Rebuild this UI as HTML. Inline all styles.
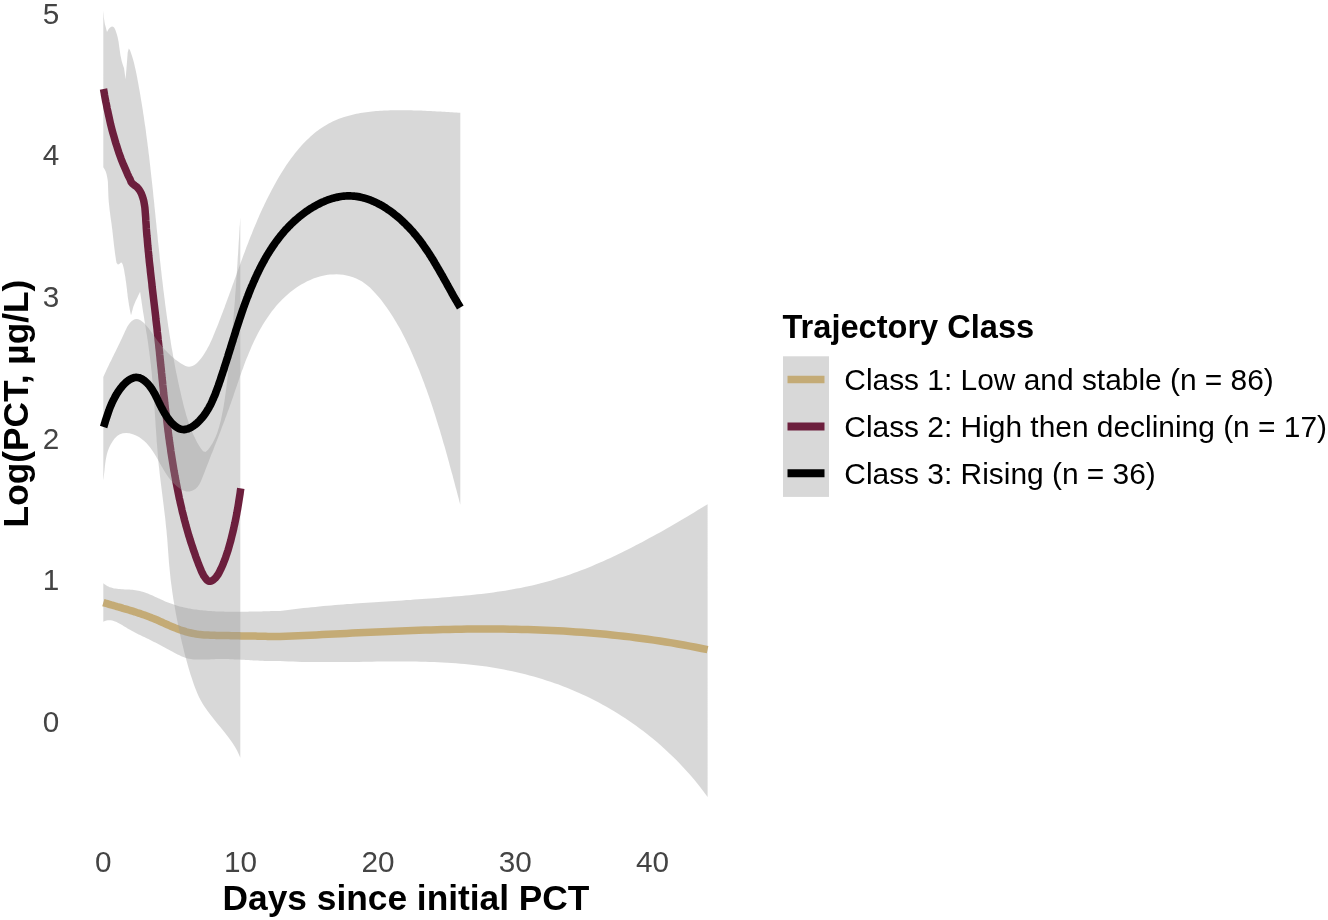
<!DOCTYPE html>
<html><head><meta charset="utf-8"><title>PCT trajectories</title>
<style>
html,body{margin:0;padding:0;background:#fff;}
body{width:1328px;height:920px;overflow:hidden;position:relative;font-family:"Liberation Sans",Arial,sans-serif;}
svg{position:absolute;left:0;top:0;display:block;}
.rb{fill:rgb(153,153,153);fill-opacity:0.38;stroke:none;}
text{font-family:"Liberation Sans",Arial,sans-serif;}
.tk{font-size:29.7px;fill:#444;}
.ttl{font-size:35.3px;font-weight:bold;fill:#000;}
.lt{font-size:32.6px;font-weight:bold;fill:#000;}
.ll{font-size:29.9px;fill:#000;}
</style></head>
<body>
<svg width="1328" height="920" viewBox="0 0 1328 920">
<rect width="1328" height="920" fill="#fff"/>
<polygon class="rb" points="103.3,583.2 104.5,584.2 105.8,585.1 107.1,585.9 108.4,586.6 109.7,587.2 111.1,587.6 112.6,588.0 114.0,588.4 115.5,588.6 117.0,588.8 118.5,589.0 120.0,589.1 121.5,589.2 123.1,589.3 124.6,589.4 126.2,589.4 127.7,589.5 129.2,589.6 130.8,589.7 132.3,589.8 133.8,590.0 135.4,590.2 136.9,590.4 138.3,590.7 139.8,591.0 141.3,591.4 142.7,591.8 144.2,592.3 145.6,592.7 147.0,593.3 148.4,593.8 149.8,594.4 151.2,595.0 152.6,595.6 154.0,596.2 155.4,596.9 156.8,597.5 158.2,598.2 159.6,598.8 161.0,599.5 162.4,600.1 163.8,600.7 165.2,601.4 166.6,602.0 168.0,602.5 169.4,603.1 170.8,603.6 172.3,604.1 173.7,604.6 175.2,605.1 176.6,605.5 178.1,605.9 179.5,606.4 181.0,606.7 182.5,607.1 184.0,607.4 185.5,607.8 187.0,608.1 188.4,608.4 189.9,608.6 191.5,608.9 193.0,609.2 194.5,609.4 196.0,609.6 197.5,609.8 199.0,610.0 200.5,610.2 202.1,610.3 203.6,610.5 205.1,610.6 206.6,610.8 208.2,610.9 209.7,611.0 211.2,611.1 212.7,611.2 214.3,611.3 215.8,611.4 217.3,611.4 218.9,611.5 220.4,611.6 221.9,611.6 223.4,611.6 225.0,611.7 226.5,611.7 228.0,611.7 229.6,611.8 231.1,611.8 232.6,611.8 234.2,611.8 235.7,611.8 237.2,611.8 238.7,611.8 240.3,611.8 241.8,611.8 243.3,611.7 244.9,611.7 246.4,611.7 247.9,611.7 249.5,611.6 251.0,611.6 252.5,611.6 254.0,611.5 255.6,611.5 257.1,611.5 258.6,611.4 260.2,611.4 261.7,611.4 263.2,611.3 264.7,611.3 266.3,611.3 267.8,611.2 269.3,611.2 270.8,611.1 272.4,611.1 273.9,611.1 275.4,611.1 277.0,611.0 278.5,611.0 280.0,611.0 283.9,610.5 287.9,610.0 291.8,609.5 295.7,609.0 299.7,608.5 303.6,608.1 307.6,607.7 311.5,607.3 315.4,606.9 319.4,606.5 323.3,606.1 327.3,605.8 331.2,605.4 335.2,605.1 339.1,604.8 343.1,604.5 347.0,604.1 351.0,603.9 354.9,603.6 358.9,603.3 362.8,603.0 366.8,602.7 370.7,602.5 374.7,602.2 378.6,601.9 382.6,601.7 386.5,601.4 390.5,601.2 394.4,600.9 398.4,600.7 402.3,600.4 406.3,600.1 410.3,599.9 414.2,599.6 418.2,599.3 422.1,599.1 426.1,598.8 430.1,598.5 434.0,598.2 438.0,597.9 441.9,597.6 445.9,597.3 449.8,597.0 453.8,596.6 457.8,596.3 461.7,595.9 465.7,595.6 469.6,595.2 473.6,594.8 477.5,594.3 481.5,593.9 485.4,593.4 489.4,592.9 493.3,592.4 497.2,591.8 501.1,591.3 505.1,590.7 509.0,590.0 512.9,589.3 516.8,588.6 520.6,587.9 524.5,587.1 528.4,586.3 532.2,585.4 536.1,584.5 539.9,583.6 543.7,582.6 547.5,581.5 551.3,580.4 555.1,579.3 558.8,578.1 562.6,576.9 566.3,575.7 570.1,574.4 573.8,573.1 577.5,571.7 581.2,570.3 584.9,568.9 588.6,567.4 592.2,565.9 595.9,564.3 599.5,562.8 603.2,561.2 606.8,559.6 610.4,557.9 614.0,556.2 617.6,554.5 621.2,552.8 624.7,551.0 628.3,549.2 631.8,547.4 635.4,545.6 638.9,543.8 642.4,541.9 645.9,540.0 649.4,538.1 652.9,536.2 656.4,534.3 659.9,532.4 663.4,530.4 666.8,528.4 670.3,526.4 673.7,524.5 677.1,522.5 680.5,520.4 683.9,518.4 687.4,516.4 690.7,514.4 694.1,512.4 697.5,510.3 700.9,508.3 704.2,506.2 707.6,504.2 707.6,797.0 705.0,793.4 702.4,789.9 699.7,786.4 696.9,783.0 694.1,779.6 691.3,776.3 688.4,772.9 685.4,769.7 682.4,766.4 679.4,763.2 676.3,760.1 673.2,757.0 670.0,753.9 666.8,750.9 663.6,747.9 660.3,745.0 656.9,742.1 653.6,739.3 650.1,736.5 646.7,733.8 643.2,731.1 639.7,728.4 636.1,725.8 632.5,723.3 628.9,720.8 625.3,718.3 621.6,715.9 617.8,713.6 614.1,711.3 610.3,709.0 606.5,706.8 602.7,704.7 598.8,702.6 594.9,700.6 591.0,698.6 587.0,696.6 583.0,694.8 579.1,692.9 575.0,691.2 571.0,689.5 566.9,687.8 562.8,686.2 558.7,684.6 554.6,683.2 550.5,681.7 546.3,680.4 542.1,679.0 537.9,677.8 533.7,676.6 529.5,675.4 525.3,674.3 521.0,673.2 516.7,672.2 512.5,671.3 508.2,670.4 503.9,669.5 499.6,668.8 495.2,668.0 490.9,667.3 486.6,666.6 482.2,666.0 477.9,665.5 473.5,665.0 469.1,664.5 464.8,664.1 460.4,663.7 456.0,663.3 451.6,663.0 447.2,662.7 442.8,662.5 438.4,662.3 434.0,662.1 429.6,661.9 425.2,661.8 420.8,661.7 416.3,661.6 411.9,661.6 407.5,661.5 403.1,661.5 398.7,661.5 394.2,661.5 389.8,661.5 385.4,661.5 381.0,661.6 376.5,661.6 372.1,661.7 367.7,661.7 363.3,661.8 358.9,661.9 354.4,661.9 350.0,662.0 345.6,662.0 341.2,662.1 336.8,662.1 332.4,662.1 328.0,662.1 323.6,662.1 319.2,662.1 314.8,662.1 310.5,662.0 306.1,662.0 301.7,661.9 297.4,661.7 293.0,661.6 288.7,661.4 284.3,661.2 280.0,661.0 278.4,661.0 276.8,661.1 275.3,661.1 273.7,661.1 272.1,661.1 270.6,661.0 269.0,661.0 267.4,661.0 265.9,660.9 264.3,660.9 262.7,660.8 261.2,660.8 259.6,660.7 258.0,660.6 256.5,660.5 254.9,660.5 253.4,660.4 251.8,660.3 250.2,660.2 248.7,660.1 247.1,660.0 245.6,659.9 244.0,659.8 242.4,659.7 240.9,659.7 239.3,659.6 237.8,659.5 236.2,659.4 234.6,659.4 233.1,659.3 231.5,659.2 229.9,659.2 228.4,659.1 226.8,659.1 225.2,659.1 223.7,659.1 222.1,659.1 220.5,659.1 219.0,659.1 217.4,659.1 215.8,659.1 214.2,659.2 212.6,659.2 211.1,659.3 209.5,659.4 207.9,659.5 206.3,659.5 204.7,659.6 203.2,659.6 201.6,659.6 200.0,659.6 198.5,659.6 196.9,659.6 195.3,659.5 193.8,659.4 192.2,659.2 190.7,659.0 189.2,658.7 187.7,658.4 186.2,658.0 184.7,657.6 183.3,657.0 181.8,656.4 180.4,655.8 179.0,655.1 177.6,654.4 176.2,653.7 174.8,653.0 173.5,652.2 172.1,651.5 170.7,650.8 169.3,650.0 167.9,649.3 166.5,648.5 165.1,647.7 163.7,647.0 162.3,646.2 161.0,645.5 159.6,644.7 158.2,644.0 156.8,643.3 155.4,642.6 154.0,641.9 152.6,641.2 151.2,640.5 149.8,639.8 148.5,639.1 147.1,638.4 145.7,637.8 144.3,637.1 142.9,636.4 141.5,635.7 140.1,635.1 138.7,634.4 137.3,633.7 135.9,633.0 134.5,632.3 133.1,631.5 131.7,630.8 130.4,630.0 129.0,629.3 127.6,628.5 126.2,627.6 124.8,626.8 123.5,626.0 122.1,625.1 120.7,624.2 119.3,623.4 117.9,622.7 116.5,622.0 115.1,621.4 113.7,620.9 112.3,620.5 110.8,620.2 109.4,620.2 107.9,620.3 106.4,620.5 104.9,621.1 103.3,621.8"/>
<polyline fill="none" stroke="#C4AB76" stroke-width="7.5" stroke-linejoin="round" points="103.3,602.6 105.3,603.2 107.2,603.7 109.2,604.3 111.2,604.9 113.1,605.4 115.1,606.0 117.1,606.6 119.1,607.1 121.0,607.7 123.0,608.3 124.9,608.8 126.9,609.4 128.9,610.0 130.8,610.6 132.8,611.2 134.7,611.8 136.7,612.5 138.6,613.1 140.6,613.7 142.5,614.4 144.4,615.1 146.3,615.8 148.3,616.5 150.2,617.2 152.1,618.0 154.0,618.7 155.9,619.5 157.8,620.3 159.6,621.2 161.5,622.0 163.4,622.9 165.3,623.7 167.1,624.5 169.0,625.4 170.9,626.2 172.8,627.0 174.7,627.8 176.6,628.5 178.5,629.3 180.4,630.0 182.3,630.6 184.3,631.2 186.2,631.8 188.2,632.3 190.1,632.8 192.1,633.2 194.1,633.6 196.1,634.0 198.1,634.3 200.1,634.5 202.1,634.7 204.2,634.9 206.2,635.0 208.3,635.1 210.3,635.2 212.4,635.3 214.4,635.3 216.5,635.4 218.5,635.4 220.6,635.5 222.7,635.5 224.7,635.5 226.8,635.6 228.8,635.6 230.9,635.7 232.9,635.7 235.0,635.7 237.0,635.8 239.1,635.8 241.1,635.9 243.2,635.9 245.2,635.9 247.3,636.0 249.3,636.0 251.4,636.1 253.4,636.1 255.5,636.1 257.5,636.2 259.5,636.2 261.6,636.3 263.6,636.3 265.7,636.3 267.7,636.4 269.8,636.4 271.8,636.5 273.9,636.5 275.9,636.5 278.0,636.6 280.0,636.6 286.0,636.3 292.1,636.1 298.1,635.8 304.1,635.5 310.1,635.2 316.2,634.9 322.2,634.6 328.2,634.3 334.3,634.0 340.3,633.7 346.4,633.4 352.4,633.1 358.4,632.8 364.5,632.5 370.5,632.3 376.6,632.0 382.6,631.7 388.7,631.4 394.7,631.2 400.8,630.9 406.8,630.7 412.8,630.5 418.9,630.3 424.9,630.1 431.0,629.9 437.0,629.7 443.1,629.6 449.1,629.4 455.2,629.3 461.2,629.2 467.3,629.1 473.3,629.1 479.3,629.0 485.4,629.0 491.4,629.0 497.5,629.1 503.5,629.1 509.5,629.2 515.6,629.3 521.6,629.4 527.7,629.6 533.7,629.8 539.7,630.0 545.8,630.2 551.8,630.5 557.8,630.8 563.8,631.1 569.9,631.5 575.9,631.9 581.9,632.3 587.9,632.8 593.9,633.3 599.9,633.8 606.0,634.3 612.0,634.9 618.0,635.6 624.0,636.2 630.0,636.9 636.0,637.7 641.9,638.5 647.9,639.3 653.9,640.1 659.9,641.0 665.9,642.0 671.8,642.9 677.8,644.0 683.8,645.0 689.7,646.1 695.7,647.3 701.7,648.5 707.6,649.7"/>
<polygon class="rb" points="103.3,10.6 103.4,12.0 103.6,13.5 103.7,14.9 103.8,16.4 103.9,17.8 104.1,19.2 104.3,20.6 104.5,22.0 104.7,23.3 105.0,24.6 105.3,25.8 105.7,27.0 106.0,28.3 106.3,29.5 106.7,30.8 107.0,32.0 107.8,30.4 108.7,29.0 109.8,27.8 110.9,27.0 112.0,26.6 113.0,26.7 113.9,27.3 114.7,28.4 115.3,29.8 115.9,31.4 116.4,32.9 116.9,34.5 117.3,36.0 117.7,37.5 118.0,39.0 118.3,40.5 118.6,42.0 118.8,43.5 119.0,44.9 119.2,46.4 119.4,47.8 119.6,49.3 119.8,50.7 120.0,52.1 120.2,53.5 120.4,55.0 120.7,56.4 121.0,57.8 121.3,59.2 121.6,60.7 122.0,62.1 122.4,63.6 122.9,65.0 123.4,66.5 124.0,68.0 125.6,79.3 126.7,65.4 127.7,52.4 128.8,48.6 129.9,50.0 131.0,52.9 132.0,56.0 133.0,59.2 133.9,62.6 134.7,66.0 135.5,69.6 136.3,73.2 137.0,76.8 137.7,80.5 138.4,84.2 139.0,87.8 139.7,91.4 140.3,95.1 140.9,98.7 141.5,102.3 142.1,105.9 142.7,109.6 143.2,113.2 143.8,116.8 144.3,120.4 144.8,124.0 145.4,127.6 145.9,131.2 146.3,134.8 146.8,138.4 147.3,142.0 147.7,145.6 148.2,149.1 148.6,152.7 149.1,156.3 149.5,159.9 149.9,163.5 150.3,167.1 150.7,170.7 151.1,174.3 151.5,177.9 151.9,181.5 152.3,185.1 152.7,188.7 153.1,192.3 153.4,195.9 153.8,199.5 154.2,203.1 154.5,206.7 154.9,210.3 155.3,213.9 155.6,217.6 156.0,221.2 156.4,224.8 156.7,228.4 157.1,232.0 157.5,235.6 157.8,239.3 158.2,242.9 158.6,246.5 159.0,250.1 159.4,253.7 159.7,257.4 160.1,261.0 160.5,264.6 160.9,268.2 161.3,271.8 161.7,275.4 162.1,279.1 162.6,282.7 163.0,286.3 163.4,289.9 163.9,293.5 164.3,297.1 164.8,300.7 165.2,304.3 165.7,307.9 166.2,311.6 166.7,315.2 167.2,318.8 167.7,322.3 168.2,325.9 168.8,329.5 169.3,333.1 169.9,336.7 170.5,340.3 171.0,343.9 171.6,347.5 172.3,351.0 172.9,354.6 173.5,358.2 174.2,361.7 174.8,365.3 175.5,368.9 176.2,372.4 177.0,376.0 177.7,379.5 178.4,383.0 179.2,386.6 180.0,390.1 180.8,393.6 181.6,397.2 182.5,400.7 183.3,404.2 184.2,407.7 185.2,411.2 186.1,414.7 187.2,418.2 188.3,421.6 189.4,425.1 190.7,428.5 192.1,431.9 193.6,435.3 195.2,438.6 196.9,441.9 198.8,445.2 200.9,448.5 203.1,451.3 205.5,452.0 208.1,449.8 210.4,446.5 212.5,443.2 214.3,439.8 215.8,436.4 217.2,433.1 218.3,429.6 219.3,426.2 220.2,422.8 221.1,419.3 221.8,415.8 222.5,412.3 223.2,408.7 223.8,405.2 224.4,401.6 224.9,398.0 225.4,394.4 225.9,390.8 226.4,387.2 226.8,383.5 227.3,379.9 227.7,376.3 228.1,372.7 228.5,369.1 229.0,365.5 229.3,361.8 229.7,358.2 230.1,354.6 230.5,351.0 230.8,347.4 231.2,343.8 231.5,340.1 231.9,336.5 232.2,332.9 232.5,329.3 232.8,325.7 233.1,322.1 233.4,318.4 233.7,314.8 234.0,311.2 234.3,307.6 234.6,304.0 234.9,300.4 235.1,296.7 235.4,293.1 235.7,289.5 235.9,285.9 236.2,282.3 236.4,278.6 236.7,275.0 236.9,271.4 237.1,267.8 237.4,264.1 237.6,260.5 237.8,256.9 238.1,253.3 238.3,249.6 238.5,246.0 238.7,242.4 239.0,238.8 239.2,235.1 239.4,231.5 239.6,227.9 239.9,224.3 240.1,220.6 240.3,217.0 240.3,757.7 238.7,753.9 236.9,750.3 234.9,746.8 232.7,743.3 230.4,740.0 228.0,736.7 225.5,733.4 222.9,730.2 220.3,727.1 217.7,723.9 215.1,720.7 212.6,717.6 210.0,714.3 207.6,711.1 205.3,707.8 203.1,704.4 201.1,700.9 199.2,697.4 197.5,693.7 196.0,690.0 194.5,686.2 193.2,682.4 191.9,678.6 190.6,674.7 189.4,670.8 188.3,666.9 187.2,663.0 186.1,659.0 185.0,655.1 184.0,651.1 183.1,647.1 182.1,643.2 181.2,639.2 180.3,635.2 179.4,631.2 178.6,627.2 177.8,623.2 177.0,619.2 176.2,615.2 175.5,611.2 174.8,607.2 174.1,603.2 173.4,599.2 172.8,595.2 172.2,591.2 171.7,587.2 171.1,583.1 170.6,579.1 170.2,575.1 169.8,571.0 169.4,567.0 169.0,562.9 168.7,558.9 168.4,554.8 168.1,550.7 167.8,546.7 167.5,542.6 167.2,538.5 166.8,534.5 166.5,530.4 166.0,526.4 165.6,522.3 165.2,518.3 164.7,514.2 164.2,510.2 163.7,506.1 163.2,502.1 162.7,498.1 162.2,494.0 161.7,490.0 161.2,486.0 160.7,481.9 160.2,477.9 159.7,473.8 159.3,469.8 158.8,465.8 158.4,461.7 158.1,457.7 157.7,453.6 157.4,449.6 157.1,445.5 156.7,441.4 156.5,437.4 156.2,433.3 155.9,429.2 155.6,425.2 155.4,421.1 155.1,417.1 154.8,413.0 154.6,408.9 154.3,404.9 154.0,400.8 153.7,396.7 153.4,392.7 153.1,388.6 152.8,384.5 152.4,380.5 152.0,376.4 151.7,372.4 151.2,368.3 150.8,364.3 150.3,360.2 149.8,356.2 149.3,352.2 148.7,348.1 148.2,344.1 147.6,340.1 147.0,336.0 146.3,332.0 145.7,328.0 145.1,324.0 144.4,320.0 143.8,315.9 143.1,311.9 142.5,307.9 141.9,303.9 141.3,299.8 140.7,295.8 140.1,291.8 139.3,293.5 138.5,295.1 137.7,296.8 136.9,298.5 136.1,300.1 135.3,301.8 134.6,303.4 134.0,305.0 133.5,306.3 133.1,307.6 132.7,308.9 132.4,310.2 132.0,311.5 131.7,312.7 131.4,314.0 131.0,315.3 130.5,313.1 130.1,310.9 129.7,308.9 129.4,307.0 129.0,305.2 128.8,303.4 128.5,301.8 128.3,300.2 128.0,298.6 127.8,297.1 127.6,295.6 127.5,294.1 127.3,292.7 127.1,291.2 127.0,289.8 126.8,288.3 126.6,286.8 126.4,285.2 126.2,283.6 126.0,281.9 125.7,280.2 125.5,278.4 125.2,276.5 124.8,274.5 124.5,272.4 124.1,270.1 123.6,267.8 123.1,265.7 122.5,263.9 121.8,262.7 121.0,262.5 120.1,263.3 119.0,264.2 117.8,264.4 116.5,262.8 116.0,260.0 115.6,257.3 115.2,254.5 114.8,251.8 114.5,249.0 114.1,246.3 113.8,243.5 113.5,240.8 113.2,238.0 112.9,235.3 112.6,232.5 112.3,229.8 111.9,227.0 111.6,224.3 111.2,221.6 110.8,218.9 110.4,216.1 110.1,213.4 109.7,210.6 109.4,207.9 109.1,205.1 108.8,202.3 108.6,199.5 108.4,196.6 108.3,193.7 108.2,190.8 108.1,187.9 108.0,185.0 107.9,182.1 107.6,179.4 107.1,176.7 106.5,174.1 105.7,171.6 104.6,169.3 103.3,167.2"/>
<polyline fill="none" stroke="#6C1F3D" stroke-width="7.5" stroke-linejoin="round" points="103.5,89.0 104.1,92.2 104.6,95.4 105.2,98.6 105.8,101.8 106.5,105.0 107.1,108.2 107.8,111.4 108.5,114.6 109.2,117.8 109.9,121.0 110.6,124.2 111.4,127.4 112.2,130.5 113.1,133.7 114.0,136.8 114.9,140.0 115.8,143.1 116.8,146.2 117.8,149.3 118.8,152.4 119.9,155.5 121.0,158.6 122.2,161.6 123.4,164.6 124.7,167.6 126.0,170.6 127.3,173.6 128.7,176.6 130.2,179.5 131.1,182.0 132.8,183.9 134.8,185.5 136.9,187.0 138.6,188.9 140.0,191.0 141.2,193.2 142.1,195.5 142.9,197.9 143.6,200.3 144.1,202.8 144.5,205.2 144.9,207.8 145.1,210.3 145.3,212.8 145.5,215.4 145.7,218.0 145.8,220.5 146.0,223.1 146.2,225.6 146.3,228.2 146.5,230.7 146.7,233.3 146.9,235.8 147.2,238.4 147.4,240.9 147.6,243.5 147.8,246.0 148.1,248.5 148.3,251.1 148.6,253.6 148.8,256.2 149.1,258.7 149.3,261.2 149.6,263.7 149.9,266.3 150.2,268.8 150.4,271.3 150.7,273.8 151.0,276.4 151.3,278.9 151.6,281.4 151.9,283.9 152.1,286.5 152.4,289.0 152.7,291.5 153.0,294.0 153.3,296.5 153.6,299.1 153.9,301.6 154.2,304.1 154.5,306.6 154.8,309.1 155.1,311.7 155.4,314.2 155.7,316.7 155.9,319.2 156.2,321.8 156.5,324.3 156.8,326.8 157.1,329.3 157.3,331.9 157.6,334.4 157.9,336.9 158.1,339.4 158.4,342.0 158.7,344.5 158.9,347.0 159.2,349.6 159.5,352.1 159.7,354.6 160.0,357.2 160.2,359.7 160.5,362.2 160.7,364.8 161.0,367.3 161.3,369.8 161.5,372.4 161.8,374.9 162.0,377.5 162.3,380.0 162.6,382.5 162.8,385.1 163.1,387.6 163.4,390.1 163.6,392.7 163.9,395.2 164.2,397.7 164.5,400.3 164.7,402.8 165.0,405.3 165.3,407.9 165.6,410.4 165.9,412.9 166.2,415.5 166.5,418.0 166.8,420.5 167.1,423.0 167.4,425.6 167.7,428.1 168.0,430.6 168.4,433.1 168.7,435.7 169.0,438.2 169.4,440.7 169.7,443.2 170.1,445.7 170.5,448.3 170.8,450.8 171.2,453.3 171.6,455.8 172.0,458.3 172.4,460.8 172.8,463.3 173.2,465.8 173.6,468.3 174.0,470.8 174.5,473.4 174.9,475.8 175.4,478.3 175.8,480.8 176.3,483.3 176.8,485.8 177.3,488.3 177.8,490.8 178.3,493.3 178.8,495.8 179.3,498.3 179.9,500.7 180.4,503.2 181.0,505.7 181.6,508.2 182.1,510.6 182.7,513.1 183.4,515.6 184.0,518.0 184.6,520.5 185.3,522.9 185.9,525.4 186.6,527.8 187.3,530.3 188.0,532.7 188.7,535.2 189.5,537.6 190.2,540.0 191.0,542.5 191.8,544.9 192.6,547.3 193.4,549.7 194.2,552.1 195.1,554.6 195.9,557.0 196.8,559.4 197.7,561.8 198.6,564.2 199.6,566.6 200.5,568.9 201.5,571.3 202.6,573.6 203.8,575.9 205.2,577.9 206.8,579.9 208.7,581.3 210.9,581.3 213.2,580.0 215.1,578.3 216.7,576.3 218.2,574.2 219.4,571.9 220.6,569.6 221.7,567.2 222.7,564.9 223.7,562.5 224.6,560.1 225.5,557.8 226.3,555.4 227.1,553.0 227.9,550.6 228.6,548.2 229.3,545.7 230.0,543.3 230.7,540.9 231.3,538.4 231.9,535.9 232.5,533.5 233.1,531.0 233.7,528.5 234.2,526.0 234.8,523.5 235.3,521.0 235.8,518.5 236.3,516.0 236.8,513.5 237.2,511.0 237.7,508.5 238.1,506.0 238.5,503.5 238.9,500.9 239.3,498.4 239.7,495.9 240.1,493.4 240.4,490.9 240.8,488.4"/>
<polygon class="rb" points="103.3,377.0 104.2,375.1 105.0,373.2 105.8,371.4 106.7,369.6 107.5,367.8 108.4,366.1 109.2,364.3 110.0,362.6 110.9,360.9 111.7,359.2 112.5,357.5 113.4,355.8 114.2,354.1 115.0,352.4 115.9,350.7 116.7,349.0 117.6,347.3 118.4,345.6 119.3,343.8 120.1,342.0 120.9,340.2 121.8,338.4 122.7,336.6 123.5,334.7 124.4,332.8 125.3,330.8 126.2,328.9 127.1,327.1 128.2,325.3 129.3,323.7 130.5,322.2 131.8,321.0 133.3,320.0 134.9,319.3 136.6,319.0 138.3,319.2 140.0,319.9 141.5,320.9 143.1,322.2 144.6,323.6 146.0,325.2 147.3,326.7 148.6,328.3 149.8,329.9 150.9,331.5 152.1,333.1 153.2,334.7 154.3,336.3 155.4,337.8 156.6,339.4 157.7,341.0 158.9,342.5 160.1,344.0 161.3,345.5 162.5,347.0 163.8,348.5 165.1,349.9 166.4,351.3 167.8,352.7 169.2,354.1 170.6,355.5 172.1,356.8 173.6,358.1 175.2,359.4 176.8,360.6 178.5,361.8 180.2,363.0 181.9,364.1 183.7,365.1 185.5,366.0 187.3,366.5 189.0,366.8 190.7,366.6 192.4,366.1 194.0,365.3 195.5,364.2 197.0,363.0 198.4,361.6 199.7,360.0 201.0,358.4 202.3,356.7 203.5,355.0 204.6,353.3 205.6,351.6 206.6,349.9 207.6,348.1 208.5,346.4 209.4,344.7 210.2,342.9 211.0,341.2 211.8,339.4 212.6,337.7 213.3,335.9 214.1,334.1 214.8,332.3 215.5,330.6 216.2,328.8 217.0,327.0 217.7,325.2 218.4,323.4 219.1,321.5 219.8,319.7 220.5,317.9 221.2,316.1 221.9,314.2 222.6,312.4 223.3,310.6 224.0,308.7 224.7,306.9 225.3,305.0 226.0,303.2 226.7,301.3 227.4,299.5 228.1,297.6 228.8,295.8 229.4,293.9 230.1,292.0 230.8,290.2 231.5,288.3 232.1,286.5 232.8,284.6 233.5,282.7 234.1,280.9 234.8,279.0 235.5,277.2 236.2,275.3 236.8,273.5 237.5,271.6 238.2,269.8 238.8,267.9 239.5,266.1 240.2,264.3 240.8,262.4 241.5,260.6 242.2,258.8 242.8,256.9 243.5,255.1 244.2,253.3 244.9,251.5 245.6,249.6 246.2,247.8 246.9,246.0 247.6,244.2 248.3,242.4 249.0,240.6 249.7,238.8 250.4,237.0 251.1,235.2 251.9,233.4 252.6,231.6 253.3,229.8 254.0,228.0 254.8,226.2 255.5,224.5 256.3,222.7 257.0,220.9 257.8,219.1 258.6,217.3 259.3,215.6 260.1,213.8 260.9,212.0 261.7,210.3 262.5,208.5 263.4,206.7 264.2,205.0 265.0,203.2 265.9,201.4 266.7,199.7 267.6,197.9 268.5,196.2 269.4,194.4 270.3,192.7 271.2,190.9 272.1,189.2 273.1,187.4 274.0,185.7 275.0,183.9 275.9,182.2 276.9,180.5 277.9,178.7 278.9,177.0 280.0,175.3 281.0,173.6 282.0,171.9 283.1,170.2 284.2,168.5 285.3,166.8 286.4,165.1 287.5,163.5 288.7,161.8 289.8,160.2 291.0,158.6 292.2,157.0 293.4,155.4 294.6,153.8 295.8,152.2 297.1,150.7 298.3,149.2 299.6,147.7 300.9,146.2 302.2,144.8 303.6,143.3 304.9,141.9 306.3,140.5 307.7,139.2 309.1,137.9 310.5,136.6 312.0,135.3 313.4,134.0 314.9,132.8 316.4,131.6 317.9,130.5 319.5,129.3 321.1,128.2 322.6,127.2 324.2,126.2 325.9,125.2 327.5,124.2 329.2,123.3 330.9,122.4 332.6,121.6 334.3,120.8 336.1,120.0 337.8,119.3 339.6,118.6 341.4,118.0 343.3,117.3 345.1,116.7 347.0,116.2 348.8,115.7 350.7,115.2 352.6,114.7 354.5,114.2 356.5,113.8 358.4,113.4 360.3,113.1 362.3,112.8 364.2,112.5 366.2,112.2 368.2,111.9 370.2,111.7 372.1,111.4 374.1,111.3 376.1,111.1 378.1,110.9 380.1,110.8 382.1,110.7 384.1,110.5 386.1,110.5 388.1,110.4 390.1,110.3 392.1,110.3 394.1,110.2 396.0,110.2 398.0,110.2 400.0,110.2 402.0,110.2 403.9,110.2 405.9,110.2 407.8,110.2 409.7,110.3 411.7,110.3 413.6,110.4 415.5,110.4 417.5,110.5 419.4,110.6 421.3,110.6 423.2,110.7 425.2,110.8 427.1,110.9 429.0,111.0 430.9,111.1 432.9,111.2 434.8,111.3 436.7,111.4 438.6,111.5 440.6,111.6 442.5,111.7 444.5,111.8 446.4,112.0 448.4,112.1 450.3,112.2 452.3,112.3 454.3,112.4 456.3,112.6 458.3,112.7 460.3,112.8 460.3,504.7 459.4,501.5 458.6,498.2 457.7,495.0 456.9,491.8 456.0,488.5 455.1,485.3 454.3,482.1 453.4,478.8 452.6,475.6 451.7,472.4 450.8,469.2 449.9,465.9 449.1,462.7 448.2,459.5 447.3,456.3 446.4,453.0 445.5,449.8 444.6,446.6 443.6,443.4 442.7,440.2 441.8,437.0 440.8,433.8 439.9,430.6 438.9,427.4 437.9,424.2 436.9,421.0 435.9,417.8 434.9,414.6 433.9,411.4 432.9,408.3 431.8,405.1 430.8,401.9 429.7,398.8 428.6,395.6 427.5,392.5 426.4,389.3 425.2,386.2 424.1,383.1 422.9,379.9 421.7,376.8 420.5,373.7 419.3,370.6 418.0,367.5 416.7,364.4 415.4,361.3 414.1,358.2 412.8,355.2 411.4,352.1 410.1,349.0 408.7,346.0 407.2,343.0 405.8,340.0 404.3,337.0 402.7,334.0 401.2,331.0 399.6,328.1 397.9,325.2 396.2,322.3 394.5,319.4 392.7,316.6 390.9,313.8 389.1,311.0 387.2,308.2 385.2,305.5 383.2,302.8 381.2,300.1 379.1,297.5 376.9,294.9 374.6,292.4 372.3,289.9 369.9,287.6 367.4,285.4 364.8,283.4 362.1,281.5 359.2,279.9 356.2,278.4 353.1,277.2 349.8,276.2 346.5,275.4 343.2,274.8 339.8,274.5 336.4,274.3 333.0,274.4 329.7,274.6 326.3,275.1 323.0,275.7 319.8,276.5 316.6,277.5 313.4,278.6 310.3,279.9 307.2,281.3 304.2,282.9 301.2,284.6 298.4,286.3 295.5,288.2 292.8,290.2 290.1,292.3 287.6,294.5 285.1,296.7 282.7,299.0 280.3,301.4 278.1,303.8 275.9,306.3 273.8,308.9 271.7,311.5 269.8,314.2 267.9,316.9 266.0,319.7 264.2,322.5 262.5,325.3 260.8,328.2 259.2,331.1 257.6,334.1 256.1,337.1 254.6,340.1 253.2,343.1 251.8,346.1 250.5,349.2 249.2,352.3 247.9,355.4 246.6,358.5 245.4,361.6 244.2,364.7 243.1,367.9 241.9,371.0 240.8,374.2 239.7,377.3 238.6,380.5 237.5,383.7 236.4,386.9 235.3,390.0 234.2,393.2 233.2,396.4 232.1,399.5 231.0,402.7 229.9,405.8 228.8,409.0 227.6,412.1 226.5,415.2 225.3,418.3 224.2,421.4 223.0,424.5 221.8,427.6 220.7,430.7 219.5,433.8 218.3,436.9 217.1,440.1 215.8,443.2 214.6,446.3 213.4,449.4 212.2,452.5 210.9,455.6 209.7,458.8 208.5,461.9 207.3,465.1 206.0,468.2 204.8,471.4 203.6,474.6 202.3,477.8 201.0,481.0 199.5,484.0 197.7,486.7 195.3,488.9 192.6,490.6 189.6,491.5 186.5,491.5 183.4,490.6 180.5,489.1 177.7,487.1 175.1,484.8 172.6,482.3 170.4,479.7 168.3,477.0 166.4,474.2 164.5,471.3 162.8,468.3 161.1,465.4 159.4,462.4 157.8,459.4 156.1,456.5 154.4,453.7 152.6,450.9 150.7,448.2 148.7,445.7 146.6,443.3 144.2,441.0 141.7,439.0 139.0,437.1 136.0,435.5 132.8,434.2 129.4,433.3 126.1,432.9 122.9,433.2 119.9,434.2 117.1,436.1 114.6,438.5 112.5,441.4 110.7,444.4 109.2,447.5 108.0,450.6 107.0,453.8 106.3,457.0 105.7,460.3 105.2,463.6 104.8,466.9 104.5,470.3 104.1,473.6 103.8,476.9 103.3,480.2"/>
<polyline fill="none" stroke="#000000" stroke-width="7.7" stroke-linejoin="round" points="103.6,427.0 104.1,425.5 104.5,424.0 105.0,422.5 105.4,421.0 105.9,419.5 106.4,418.0 106.9,416.5 107.4,415.0 107.9,413.5 108.4,412.0 109.0,410.4 109.5,408.9 110.1,407.4 110.7,405.9 111.4,404.4 112.0,402.9 112.7,401.4 113.4,400.0 114.2,398.5 114.9,397.1 115.7,395.6 116.6,394.2 117.4,392.8 118.3,391.4 119.3,390.0 120.3,388.7 121.3,387.4 122.4,386.1 123.5,384.8 124.7,383.6 125.8,382.5 127.1,381.4 128.3,380.5 129.6,379.6 130.9,378.9 132.2,378.3 133.5,377.8 134.8,377.5 136.2,377.4 137.5,377.5 138.9,377.7 140.2,378.2 141.6,378.8 142.9,379.6 144.2,380.5 145.4,381.5 146.6,382.6 147.8,383.8 148.9,385.0 149.9,386.3 150.9,387.7 151.9,389.1 152.8,390.5 153.6,392.0 154.5,393.4 155.3,394.9 156.0,396.4 156.8,397.9 157.5,399.4 158.2,400.9 158.9,402.3 159.6,403.8 160.3,405.2 161.0,406.6 161.7,408.0 162.5,409.4 163.2,410.8 164.0,412.2 164.8,413.6 165.7,414.9 166.6,416.3 167.5,417.7 168.5,419.1 169.6,420.4 170.7,421.8 171.9,423.1 173.2,424.4 174.4,425.5 175.7,426.6 177.1,427.5 178.4,428.3 179.8,428.9 181.2,429.3 182.6,429.5 184.0,429.6 185.4,429.4 186.8,429.1 188.2,428.7 189.5,428.1 190.9,427.5 192.2,426.7 193.5,425.8 194.8,424.9 196.1,423.9 197.3,422.8 198.4,421.7 199.5,420.6 200.6,419.4 201.7,418.2 202.7,417.0 203.7,415.8 204.6,414.5 205.5,413.2 206.4,411.9 207.2,410.6 208.1,409.2 208.9,407.8 209.6,406.4 210.4,405.0 211.1,403.6 211.8,402.1 212.4,400.7 213.1,399.2 213.7,397.7 214.4,396.2 215.0,394.7 215.6,393.2 216.1,391.7 216.7,390.1 217.3,388.6 217.8,387.1 218.4,385.5 218.9,384.0 219.4,382.4 220.0,380.9 220.5,379.3 221.0,377.8 221.5,376.2 222.0,374.7 222.5,373.2 223.0,371.6 223.6,370.1 224.1,368.5 224.5,367.0 225.0,365.4 225.5,363.9 226.0,362.3 226.5,360.8 227.0,359.2 227.5,357.7 228.0,356.1 228.4,354.6 228.9,353.0 229.4,351.5 229.9,349.9 230.4,348.4 230.8,346.9 231.3,345.3 231.8,343.8 232.3,342.2 232.8,340.7 233.2,339.1 233.7,337.6 234.2,336.1 234.7,334.5 235.2,333.0 235.6,331.5 236.1,329.9 236.6,328.4 237.1,326.9 237.6,325.3 238.1,323.8 238.6,322.3 239.1,320.8 239.6,319.2 240.1,317.7 240.6,316.2 241.1,314.7 241.6,313.2 242.1,311.7 242.7,310.1 243.2,308.6 243.7,307.1 244.3,305.6 244.8,304.1 245.4,302.6 245.9,301.1 246.5,299.6 247.0,298.1 247.6,296.7 248.2,295.2 248.7,293.7 249.3,292.2 249.9,290.7 250.5,289.2 251.1,287.8 251.7,286.3 252.4,284.8 253.0,283.4 253.6,281.9 254.3,280.5 254.9,279.0 255.6,277.6 256.2,276.1 256.9,274.7 257.6,273.2 258.3,271.8 259.0,270.4 259.7,268.9 260.4,267.5 261.1,266.1 261.9,264.7 262.6,263.3 263.4,261.9 264.2,260.5 264.9,259.1 265.7,257.7 266.5,256.3 267.3,254.9 268.2,253.6 269.0,252.2 269.8,250.9 270.7,249.5 271.6,248.2 272.5,246.8 273.4,245.5 274.3,244.2 275.2,242.9 276.1,241.6 277.1,240.3 278.0,239.1 279.0,237.8 280.0,236.5 281.0,235.3 282.0,234.1 283.0,232.8 284.1,231.6 285.1,230.4 286.2,229.2 287.3,228.1 288.4,226.9 289.5,225.8 290.6,224.6 291.8,223.5 293.0,222.4 294.1,221.3 295.3,220.2 296.6,219.1 297.8,218.1 299.0,217.0 300.3,216.0 301.6,215.0 302.9,214.0 304.2,213.0 305.5,212.0 306.9,211.1 308.3,210.1 309.6,209.2 311.0,208.3 312.4,207.5 313.9,206.6 315.3,205.8 316.7,205.0 318.2,204.3 319.7,203.5 321.1,202.8 322.6,202.1 324.1,201.5 325.6,200.8 327.1,200.2 328.6,199.7 330.2,199.2 331.7,198.7 333.2,198.2 334.8,197.8 336.3,197.4 337.8,197.1 339.4,196.8 340.9,196.5 342.5,196.3 344.0,196.1 345.6,196.0 347.1,195.9 348.7,195.9 350.2,195.9 351.7,196.0 353.3,196.1 354.8,196.2 356.3,196.4 357.9,196.6 359.4,196.9 360.9,197.2 362.4,197.6 363.9,198.0 365.4,198.4 366.9,198.9 368.4,199.4 369.9,199.9 371.4,200.5 372.8,201.1 374.3,201.7 375.8,202.4 377.2,203.1 378.6,203.9 380.1,204.6 381.5,205.4 382.9,206.2 384.3,207.1 385.7,207.9 387.0,208.8 388.4,209.8 389.7,210.7 391.1,211.7 392.4,212.6 393.7,213.6 395.0,214.7 396.3,215.7 397.6,216.8 398.8,217.8 400.1,218.9 401.3,220.0 402.5,221.2 403.7,222.3 404.9,223.4 406.1,224.6 407.2,225.8 408.4,226.9 409.5,228.1 410.6,229.3 411.7,230.5 412.8,231.7 413.8,233.0 414.8,234.2 415.9,235.4 416.9,236.7 417.9,237.9 418.9,239.2 419.8,240.4 420.8,241.7 421.8,243.0 422.7,244.3 423.6,245.6 424.5,246.9 425.4,248.2 426.3,249.5 427.2,250.8 428.1,252.1 429.0,253.4 429.8,254.8 430.7,256.1 431.5,257.4 432.4,258.8 433.2,260.1 434.0,261.5 434.8,262.9 435.6,264.2 436.4,265.6 437.2,267.0 438.0,268.3 438.8,269.7 439.6,271.1 440.4,272.5 441.2,273.9 442.0,275.3 442.8,276.6 443.5,278.0 444.3,279.4 445.1,280.8 445.9,282.2 446.7,283.6 447.4,285.0 448.2,286.4 449.0,287.8 449.8,289.2 450.6,290.7 451.4,292.1 452.1,293.5 452.9,294.9 453.7,296.3 454.5,297.7 455.3,299.1 456.2,300.5 457.0,301.9 457.8,303.3 458.6,304.7 459.5,306.1 460.3,307.5"/>
<g class="tk" text-anchor="end">
<text x="59.2" y="23.6">5</text>
<text x="59.2" y="165.3">4</text>
<text x="59.2" y="306.9">3</text>
<text x="59.2" y="448.6">2</text>
<text x="59.2" y="590.2">1</text>
<text x="59.2" y="731.9">0</text>
</g>
<g class="tk" text-anchor="middle">
<text x="103.3" y="871.8">0</text>
<text x="240.6" y="871.8">10</text>
<text x="378" y="871.8">20</text>
<text x="515.3" y="871.8">30</text>
<text x="652.6" y="871.8">40</text>
</g>
<text class="ttl" text-anchor="middle" x="406" y="910">Days since initial PCT</text>
<text class="ttl" text-anchor="middle" transform="translate(28,403.5) rotate(-90)">Log(PCT, µg/L)</text>
<text class="lt" x="782.5" y="338">Trajectory Class</text>
<rect x="783" y="356.3" width="46" height="140.6" fill="#d8d8d8"/>
<line x1="787.5" x2="824.5" y1="379.5" y2="379.5" stroke="#C4AB76" stroke-width="7.6"/>
<line x1="787.5" x2="824.5" y1="426.4" y2="426.4" stroke="#6C1F3D" stroke-width="8"/>
<line x1="787.5" x2="824.5" y1="473.3" y2="473.3" stroke="#000" stroke-width="8"/>
<text class="ll" x="844.3" y="389.8">Class 1: Low and stable (n = 86)</text>
<text class="ll" x="844.3" y="436.7">Class 2: High then declining (n = 17)</text>
<text class="ll" x="844.3" y="483.6">Class 3: Rising (n = 36)</text>
</svg>
</body></html>
